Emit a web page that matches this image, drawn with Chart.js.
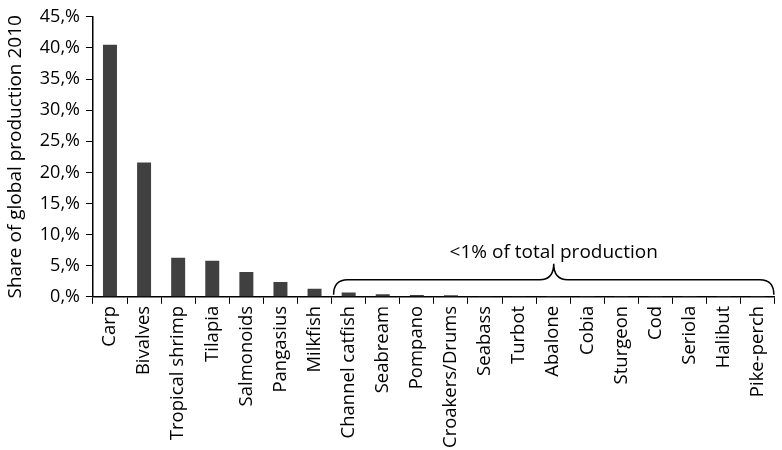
<!DOCTYPE html>
<html>
<head>
<meta charset="utf-8">
<script src="https://cdn.jsdelivr.net/npm/chart.js@4.4.0/dist/chart.umd.min.js"></script>
<style>
  body { margin: 0; background: #fff; }
</style>
</head>
<body>
<canvas id="chart" width="782" height="450"></canvas>
<script>
const species = ['Carp', 'Bivalves', 'Tropical shrimp', 'Tilapia', 'Salmonoids', 'Pangasius', 'Milkfish',
  'Channel catfish', 'Seabream', 'Pompano', 'Croakers/Drums', 'Seabass', 'Turbot', 'Abalone', 'Cobia',
  'Sturgeon', 'Cod', 'Seriola', 'Halibut', 'Pike-perch'];
const share = [40.5, 21.6, 6.3, 5.8, 4.0, 2.4, 1.3, 0.7, 0.4, 0.3, 0.25, 0.15, 0.05, 0.02, 0.02, 0.01, 0.01, 0.01, 0.01, 0.01];
const yTicks = [0, 5, 10, 15, 20, 25, 30, 35, 40, 45];
const braceFrom = 7; // first category under the brace
const braceText = '<1% of total production';

const font = "'Open Sans', sans-serif";

// draws the curly brace over the small producers
const bracePlugin = {
  id: 'brace',
  afterDatasetsDraw(chart) {
    const ctx = chart.ctx;
    const x = chart.scales.x, y = chart.scales.y;
    const half = (x.getPixelForValue(1) - x.getPixelForValue(0)) / 2;
    const x0 = x.getPixelForValue(braceFrom) - half + 2;
    const x1 = chart.chartArea.right - 1;
    const xm = (x0 + x1) / 2;
    const yb = y.getPixelForValue(0) - 2;
    const ym = yb - 15;
    const yt = yb - 31;
    const r = 14;
    ctx.save();
    ctx.strokeStyle = '#000';
    ctx.lineWidth = 1.5;
    ctx.beginPath();
    ctx.moveTo(x0, yb);
    ctx.quadraticCurveTo(x0, ym, x0 + r, ym);
    ctx.lineTo(xm - r, ym);
    ctx.quadraticCurveTo(xm, ym, xm, yt);
    ctx.quadraticCurveTo(xm, ym, xm + r, ym);
    ctx.lineTo(x1 - r, ym);
    ctx.quadraticCurveTo(x1, ym, x1, yb);
    ctx.stroke();
    ctx.fillStyle = '#000';
    ctx.font = '19px ' + font;
    ctx.textAlign = 'center';
    ctx.textBaseline = 'alphabetic';
    ctx.fillText(braceText, xm, yt - 6);
    ctx.restore();
  }
};

new Chart(document.getElementById('chart'), {
  type: 'bar',
  data: {
    labels: species,
    datasets: [{
      data: share,
      backgroundColor: '#404040',
      barPercentage: 0.82,
      categoryPercentage: 0.5
    }]
  },
  options: {
    responsive: false,
    animation: false,
    layout: { padding: { top: 9, right: -4, left: 4 } },
    plugins: { legend: { display: false }, tooltip: { enabled: false } },
    scales: {
      x: {
        grid: { drawOnChartArea: false, tickLength: 7, color: '#000', offset: true },
        border: { color: '#000', width: 1.5 },
        ticks: {
          color: '#000', minRotation: 90, maxRotation: 90, autoSkip: false, padding: 2,
          font: { family: font, size: 18.5 }
        }
      },
      y: {
        min: 0, max: 45,
        afterBuildTicks(axis) { axis.ticks = yTicks.map(v => ({ value: v })); },
        grid: { drawOnChartArea: false, tickLength: 7, color: '#000' },
        border: { color: '#000', width: 1.5 },
        ticks: {
          color: '#000', padding: 6,
          font: { family: font, size: 18 },
          callback: v => v + ',%'
        },
        title: {
          display: true, text: 'Share of global production 2010', color: '#000',
          font: { family: font, size: 19 }, padding: { top: 0, bottom: 7 }
        }
      }
    }
  },
  plugins: [bracePlugin]
});
</script>
</body>
</html>
